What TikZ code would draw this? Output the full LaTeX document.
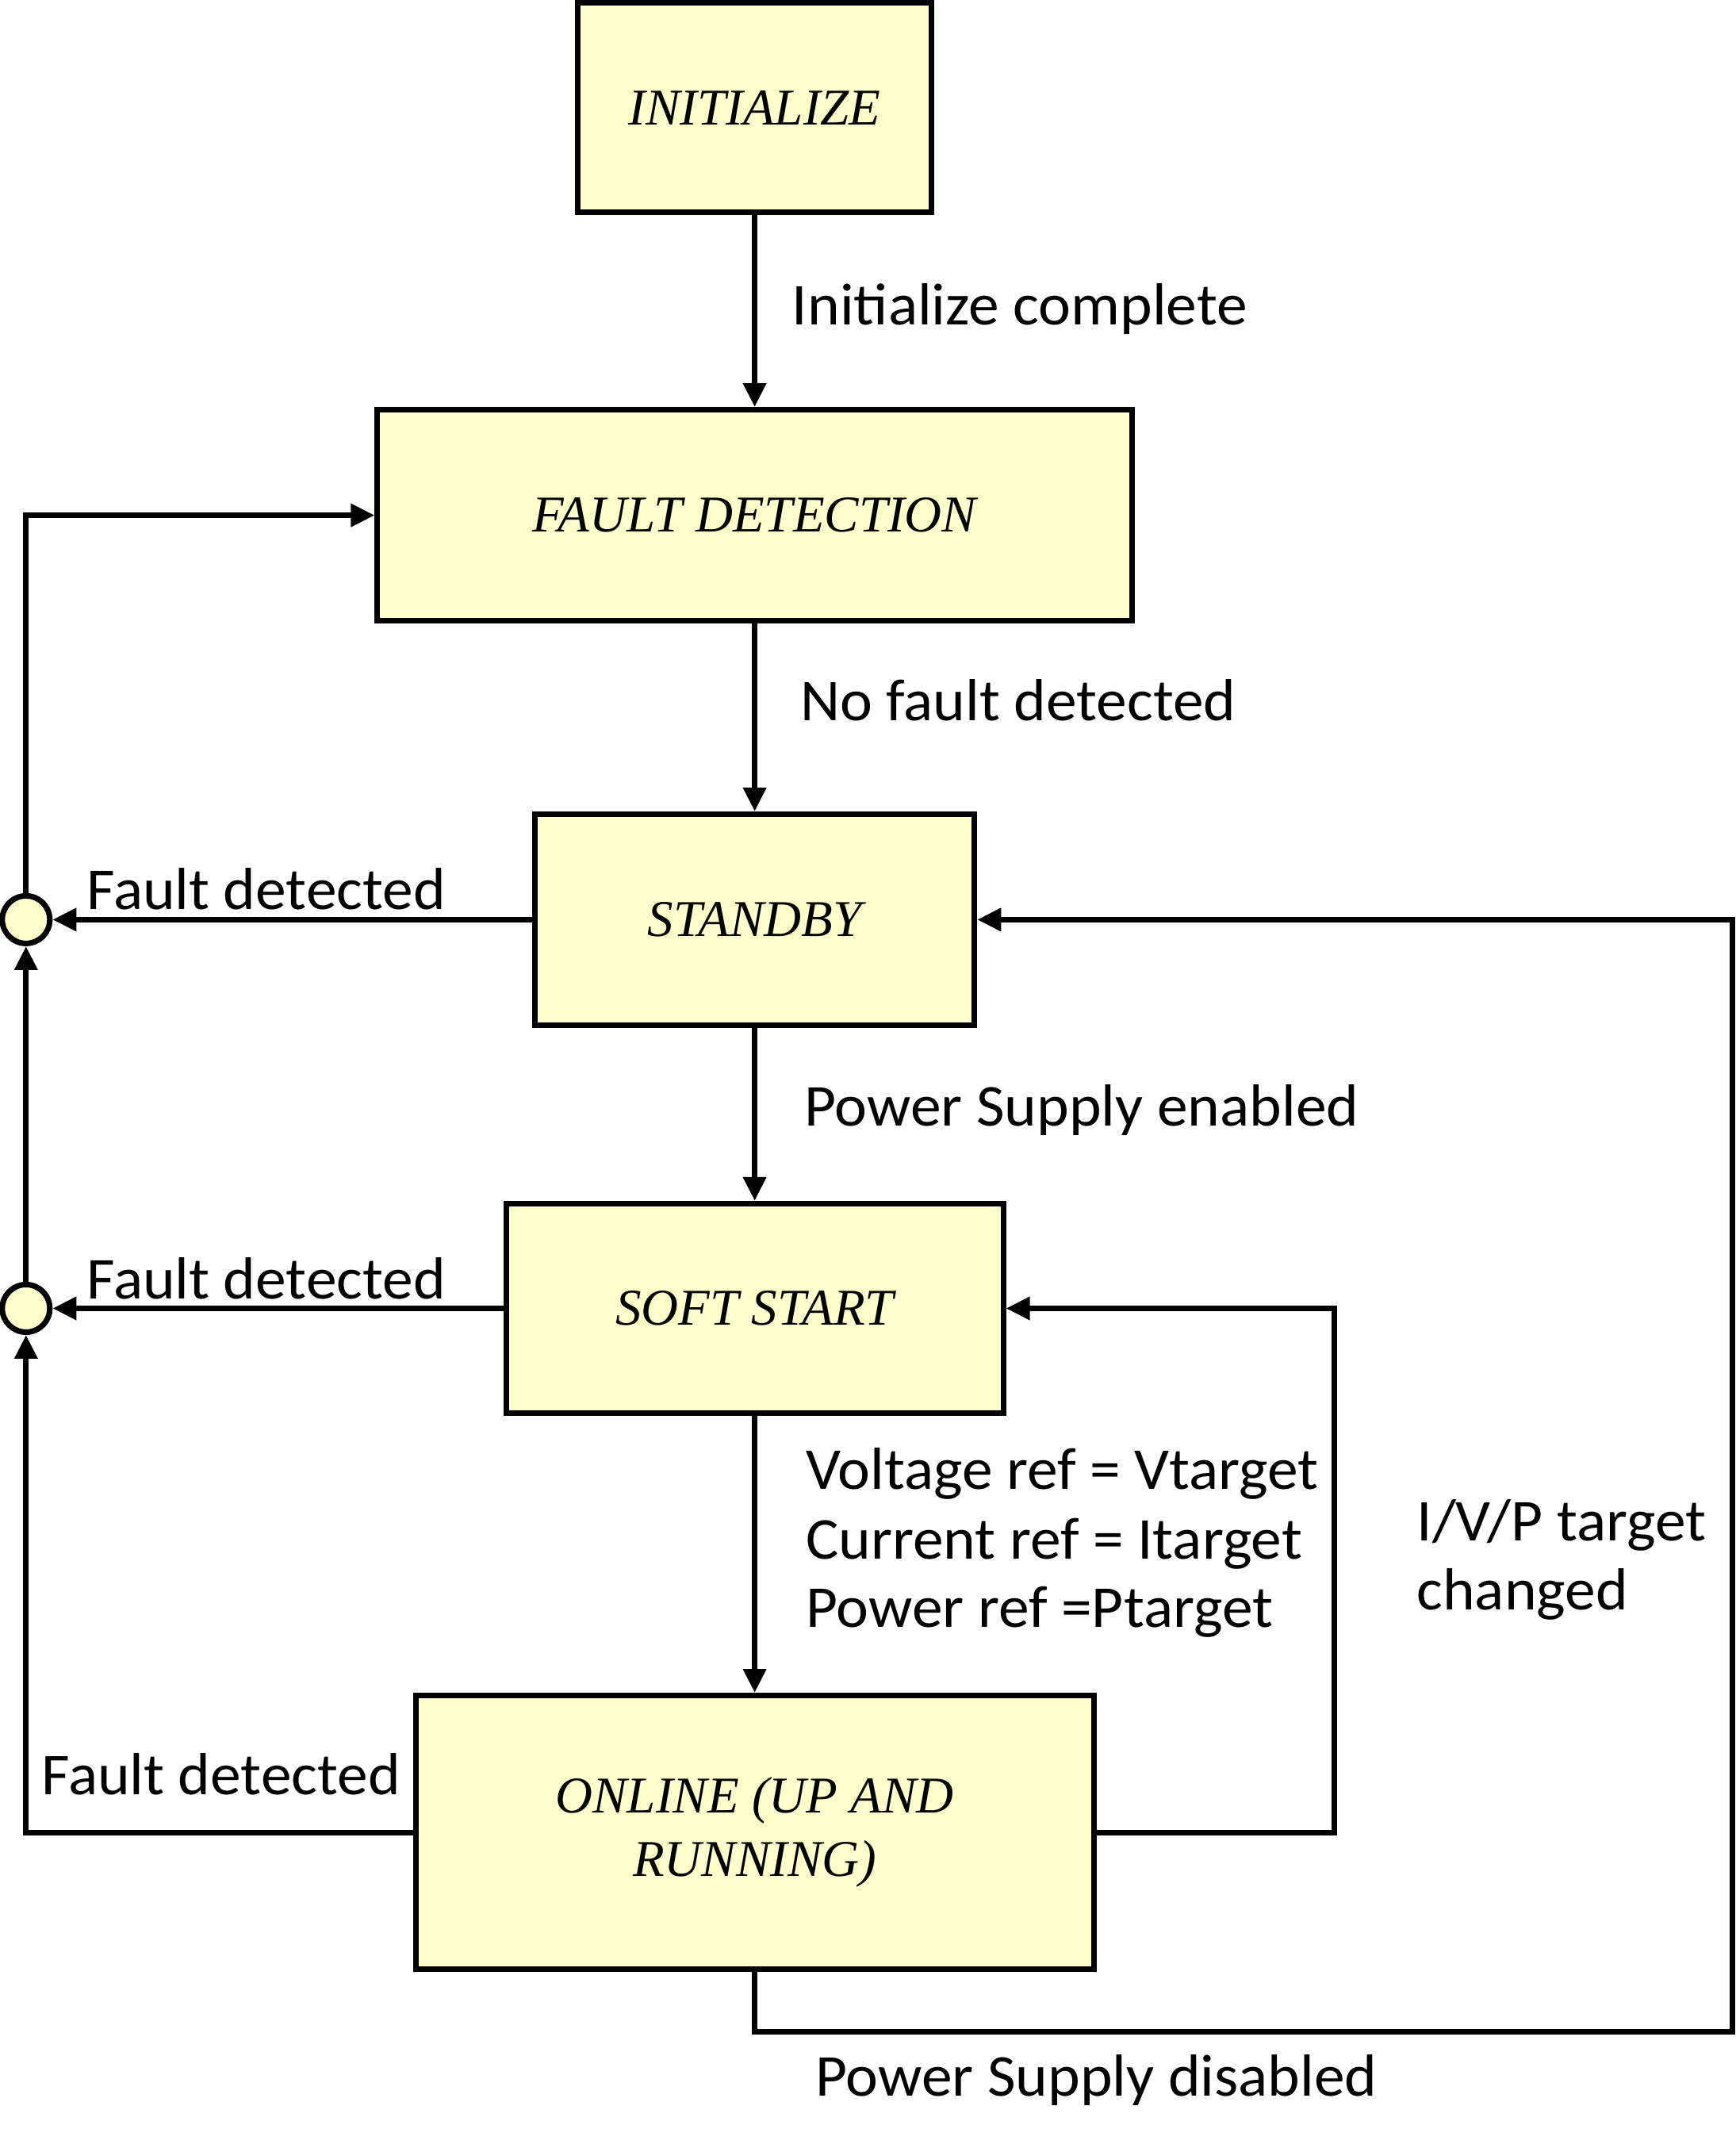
\documentclass[tikz,border=0pt]{standalone}
\usepackage{fontspec}
\setmainfont{Liberation Serif}
\newfontfamily\lblfont[FakeStretch=1.035]{Carlito}
\usetikzlibrary{positioning,arrows.meta}
\definecolor{stateyellow}{HTML}{FFFFCC}

\tikzset{
  state/.style={draw,line width=2pt,fill=stateyellow,inner sep=0pt,
    font=\itshape\fontsize{18.5}{22.7}\selectfont},
  junc/.style={circle,draw,line width=2pt,fill=stateyellow,minimum size=0.6cm,inner sep=0pt},
  lbl/.style={anchor=base west,inner sep=0pt,font=\lblfont\fontsize{21.3}{26}\selectfont},
  arr/.style={line width=2pt,-{Triangle[length=0.3cm,width=0.28cm]}},
}

\begin{document}
\begin{tikzpicture}[x=0.01727cm,y=-0.01727cm]
                \useasboundingbox (0,0) rectangle (1267,1568);
                % rails of the loops
                \coordinate (leftrail) at (19,0);
                \coordinate (midrail) at (974,0);
                \coordinate (farrail) at (1265,1483);

                % states
                \node[state,minimum width=4.456cm,minimum height=2.642cm] (init) at (551,78.5) {INITIALIZE};
                \node[state,minimum width=9.516cm,minimum height=2.66cm] (fault)[below=2.42cm of init] {FAULT DETECTION};
                \node[state,minimum width=5.544cm,minimum height=2.66cm] (standby)[below=2.368cm of fault] {STANDBY};
                \node[state,minimum width=6.269cm,minimum height=2.642cm] (soft)[below=2.18cm of standby] {SOFT START};
                \node[state,minimum width=8.549cm,minimum height=3.454cm,align=center] (online)[below=3.49cm of soft] {ONLINE (UP AND\\RUNNING)};

                \node[junc] (j1) at (standby -| leftrail) {};
                \node[junc] (j2) at (soft -| leftrail) {};

                % transitions
                \draw[arr] (init) -- (fault);
                \draw[arr] (fault) -- (standby);
                \draw[arr] (standby) -- (soft);
                \draw[arr] (soft) -- (online);
                \draw[arr] (standby) -- (j1);
                \draw[arr] (soft) -- (j2);
                \draw[arr] (j1) |- (fault);
                \draw[arr] (j2) -- (j1);
                \draw[arr] (online) -| (j2);
                \draw[arr] (online) -| (midrail |- soft) -- (soft);
                \draw[arr] (online) |- (farrail) |- (standby);

                % labels
                \node[lbl] (tinit) at (578,237) {Initialize complete};
                \node[lbl] (tnofault) at (584,526) {No fault detected};
                \node[lbl] (tfault1) at (63,664) {Fault detected};
                \node[lbl] (tenable) at (587,822) {Power Supply enabled};
                \node[lbl] (tfault2) at (63,948) {Fault detected};
                \node[lbl] (tvref) at (588,1087) {Voltage ref = Vtarget};
                \node[lbl] (tiref) at (588,1138) {Current ref = Itarget};
                \node[lbl] (tpref) at (588,1188) {Power ref =Ptarget};
                \node[lbl] (ttarget) at (1034,1125) {I/V/P target};
                \node[lbl] (tchanged) at (1034,1175) {changed};
                \node[lbl] (tfault3) at (30,1310) {Fault detected};
                \node[lbl] (tdisable) at (595,1530) {Power Supply disabled};
\end{tikzpicture}
\end{document}
